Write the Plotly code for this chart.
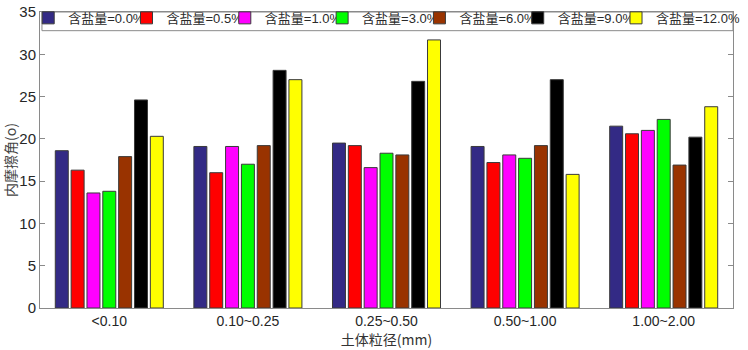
import plotly.graph_objects as go

categories = ["<0.10", "0.10~0.25", "0.25~0.50", "0.50~1.00", "1.00~2.00"]
series_names = ["含盐量=0.0%", "含盐量=0.5%", "含盐量=1.0%", "含盐量=3.0%",
                "含盐量=6.0%", "含盐量=9.0%", "含盐量=12.0%"]
s00 = [18.6, 19.1, 19.5, 19.1, 21.5]
s05 = [16.3, 16.0, 19.2, 17.2, 20.6]
s10 = [13.6, 19.1, 16.6, 18.1, 21.0]
s30 = [13.8, 17.0, 18.3, 17.7, 22.3]
s60 = [17.9, 19.2, 18.1, 19.2, 16.9]
s90 = [24.6, 28.1, 26.8, 27.0, 20.2]
s120 = [20.3, 27.0, 31.7, 15.8, 23.8]
values = [s00, s05, s10, s30, s60, s90, s120]
colors = ["#332A85", "#FF0000", "#FF00FF", "#00FF00", "#993300", "#000000", "#FFFF00"]

W, H = 748, 350
L, R, T, B = 40, 3, 7, 42
pw, ph = W - L - R, H - T - B

# legend entry left edges (pixels) in the reference
legend_px = [44, 144, 244, 343, 442, 542, 642]
legend_keys = ["legend", "legend2", "legend3", "legend4", "legend5", "legend6", "legend7"]

fig = go.Figure()
for i, (name, vals, col) in enumerate(zip(series_names, values, colors)):
    fig.add_trace(go.Bar(
        x=categories, y=vals, name=name, legend=legend_keys[i],
        marker=dict(color=col, line=dict(color="#3a3a3a", width=1)),
    ))

axis_col = "#8a8a8a"
legend_font = dict(size=13, family="Liberation Sans, Noto Sans CJK SC", color="#2a2a2a")
leg_y = (H - B - 13) / ph
layout_legends = {}
for key, px in zip(legend_keys, legend_px):
    layout_legends[key] = dict(
        x=(px - 16 - L) / pw, xanchor="left", y=leg_y, yanchor="middle",
        bgcolor="rgba(0,0,0,0)", borderwidth=0, font=legend_font,
        orientation="h",
    )

fig.update_layout(
    width=W, height=H,
    margin=dict(l=L, r=R, t=T, b=B),
    paper_bgcolor="white", plot_bgcolor="white",
    barmode="group", bargap=0.2, bargroupgap=0.18,
    font=dict(family="Liberation Sans, Arial, Noto Sans CJK SC", size=14, color="#262626"),
    showlegend=True,
    xaxis=dict(
        range=[-0.5, 4.5], showline=True, linecolor=axis_col, linewidth=1, mirror=True,
        ticks="", showgrid=False, zeroline=False,
        tickfont=dict(size=14, color="#262626"),
        title=dict(text="土体粒径(mm)", font=dict(size=14, color="#333",
                   family="Noto Sans CJK SC"), standoff=3),
    ),
    yaxis=dict(
        range=[0, 35], dtick=5, showline=True, linecolor=axis_col, linewidth=1, mirror="ticks",
        ticks="inside", ticklen=5, tickcolor=axis_col, showgrid=False, zeroline=False,
        tickfont=dict(size=15, color="#262626"),
        title=dict(text="内摩擦角(o)", font=dict(size=14, color="#444",
                   family="Noto Sans CJK SC"), standoff=4),
    ),
    shapes=[dict(
        type="rect", xref="paper", yref="paper",
        x0=(42 - L) / pw, x1=1.0, y0=(H - B - 26) / ph, y1=1.0,
        line=dict(color=axis_col, width=1), fillcolor="white", layer="below",
    )],
    **layout_legends,
)

fig.write_html("out.html", config={"displayModeBar": False},
               post_script="document.body.style.margin='0';")
